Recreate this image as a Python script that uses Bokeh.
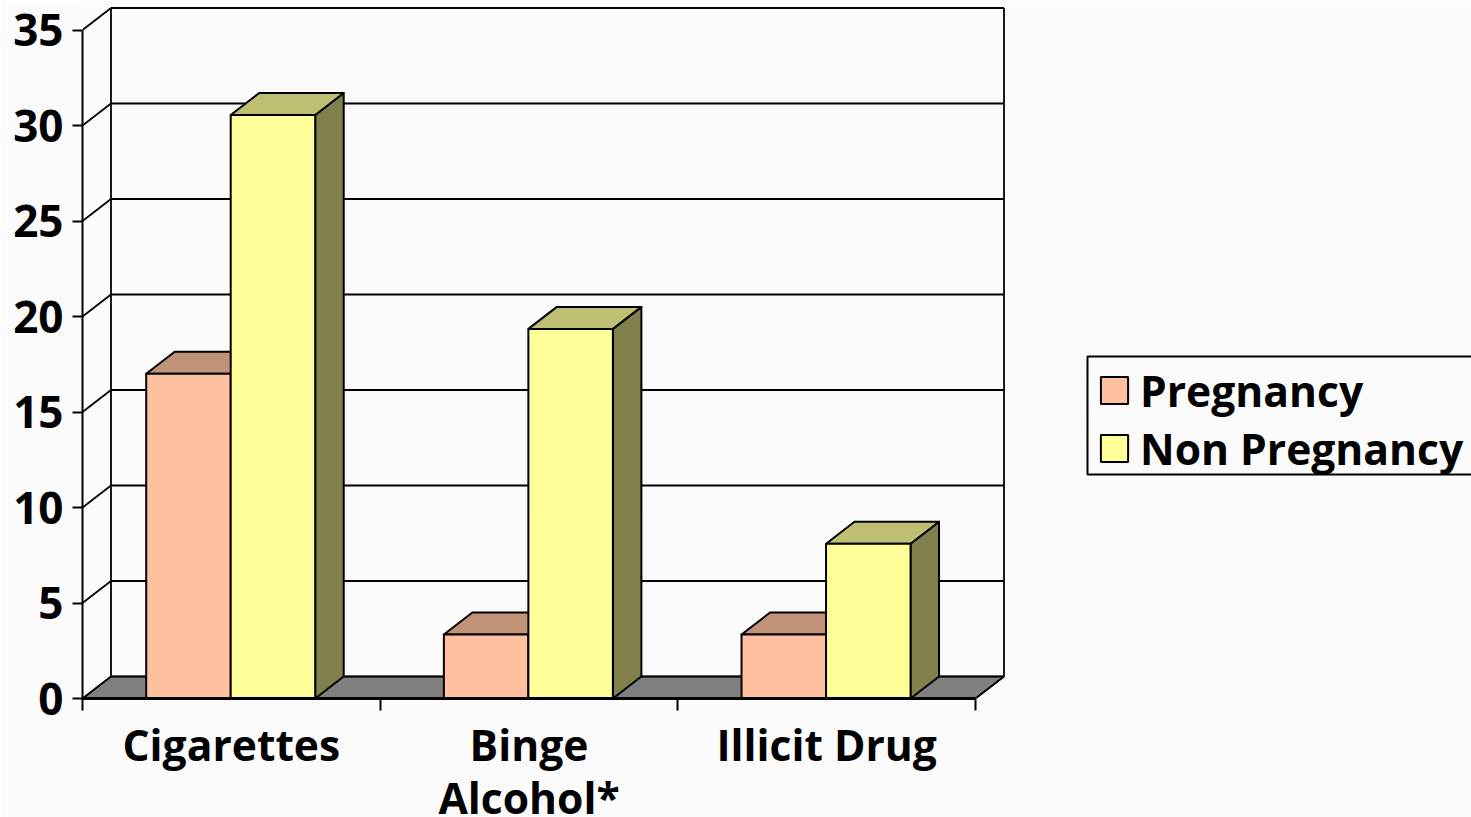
from bokeh.embed import file_html
from bokeh.models import BoxAnnotation, FixedTicker, Legend, LegendItem, LinearAxis, Range1d
from bokeh.plotting import figure
from bokeh.resources import INLINE

categories = ["Cigarettes", "Binge\nAlcohol*", "Illicit Drug"]
pregnancy = [17.0, 3.35, 3.35]
non_pregnancy = [30.55, 19.35, 8.1]
value_ticks = [0, 5, 10, 15, 20, 25, 30, 35]

FONT = "Open Sans"
VALUE_SIZE = "44px"
LABEL_SIZE = "42.6px"
PAGE = "#fbfbfb"

# Pixel scale of the chart frame.
PX_PER_CATEGORY = 297.67
PX_PER_UNIT = 19.1
FRAME_LEFT = 82
FRAME_HEIGHT = 698
WIDTH, HEIGHT = 1471, 817

# Oblique offset of the back wall, expressed in data units.
DX = 28.5 / PX_PER_CATEGORY
DY = 22 / PX_PER_UNIT
BAR = 84.5 / PX_PER_CATEGORY
GAP = 63.7 / PX_PER_CATEGORY

p = figure(
    width=WIDTH, height=HEIGHT,
    frame_width=WIDTH - FRAME_LEFT, frame_height=FRAME_HEIGHT,
    x_range=Range1d(0, (WIDTH - FRAME_LEFT) / PX_PER_CATEGORY),
    y_range=Range1d(0, FRAME_HEIGHT / PX_PER_UNIT),
    output_backend="svg", toolbar_location=None,
    min_border_left=FRAME_LEFT, min_border_right=0, min_border_top=0,
    min_border_bottom=HEIGHT - FRAME_HEIGHT,
    background_fill_color=PAGE, border_fill_color=PAGE,
    outline_line_color=None,
    x_axis_type=None, y_axis_type=None,
)
p.grid.visible = False

n = len(categories)
top = value_ticks[-1]

# Floor of the box.
p.patch([0, n, n + DX, DX], [0, 0, DY, DY], fill_color="#808080", line_color="black", line_width=1.5)

# Back wall gridlines and their diagonals along the left wall.
p.segment([DX] * len(value_ticks), [v + DY for v in value_ticks],
          [n + DX] * len(value_ticks), [v + DY for v in value_ticks],
          line_color="black", line_width=1.8)
p.segment([0] * len(value_ticks), value_ticks,
          [DX] * len(value_ticks), [v + DY for v in value_ticks],
          line_color="black", line_width=1.8)

# Vertical edges of the back wall.
p.segment([DX, n + DX], [DY, DY], [DX, n + DX], [top + DY, top + DY],
          line_color="black", line_width=1.8)
p.segment([n], [0], [n + DX], [DY], line_color="black", line_width=1.8)


def draw_series(values, start, front, roof, side):
    """Draw one series of oblique bars: side faces, roofs, then fronts."""
    lefts = [i + start for i in range(len(values))]
    rights = [x + BAR for x in lefts]
    p.patches(
        [[r, r + DX, r + DX, r] for r in rights],
        [[0, DY, v + DY, v] for v in values],
        fill_color=side, line_color="black", line_width=2, line_join="round",
    )
    p.patches(
        [[l, r, r + DX, l + DX] for l, r in zip(lefts, rights)],
        [[v, v, v + DY, v + DY] for v in values],
        fill_color=roof, line_color="black", line_width=2, line_join="round",
    )
    return p.vbar(
        x=[x + BAR / 2 for x in lefts], top=values, bottom=0, width=BAR,
        fill_color=front, line_color="black", line_width=2,
    )


bars_a = draw_series(pregnancy, GAP, "#ffc0a0", "#c09378", "#806050")
bars_b = draw_series(non_pregnancy, GAP + BAR, "#ffff99", "#bfbf73", "#80804d")

# Value axis on the front left edge.
y_axis = LinearAxis(
    ticker=FixedTicker(ticks=value_ticks), bounds=(0, top),
    major_tick_in=0, major_tick_out=10, minor_tick_line_color=None,
    major_tick_line_width=2, axis_line_width=2, major_label_standoff=9,
    major_label_text_font=FONT, major_label_text_font_size=VALUE_SIZE,
    major_label_text_font_style="bold", major_label_text_color="black",
)
p.add_layout(y_axis, "left")

# Minor ticks mark the category boundaries, major positions carry the names.
centers = [i + 0.5 for i in range(n)]
x_axis = LinearAxis(
    ticker=FixedTicker(ticks=centers, minor_ticks=list(range(n + 1))),
    bounds=(0, n),
    major_label_overrides={c: t for c, t in zip(centers, categories)},
    major_tick_in=0, major_tick_out=0, major_tick_line_color=None,
    minor_tick_in=0, minor_tick_out=12, minor_tick_line_color="black",
    minor_tick_line_width=2, axis_line_width=3, major_label_standoff=4,
    major_label_text_font=FONT, major_label_text_font_size=LABEL_SIZE,
    major_label_text_font_style="bold", major_label_text_color="black",
    major_label_text_align="center", major_label_text_line_height=0.92,
)
p.add_layout(x_axis, "below")

# Legend frame, running off the right edge of the page (frame-relative pixels).
p.add_layout(BoxAnnotation(
    left=1087 - FRAME_LEFT, right=1480 - FRAME_LEFT,
    top=FRAME_HEIGHT - 356, bottom=FRAME_HEIGHT - 474,
    left_units="screen", right_units="screen", top_units="screen", bottom_units="screen",
    fill_color=None, line_color="black", line_width=2, line_alpha=1,
))

legend = Legend(
    items=[LegendItem(label="Pregnancy", renderers=[bars_a]),
           LegendItem(label="Non Pregnancy", renderers=[bars_b])],
    location=(1097 - FRAME_LEFT, FRAME_HEIGHT - 477),
    orientation="vertical", margin=0, padding=5, spacing=0,
    glyph_width=34, glyph_height=34, label_standoff=9, label_height=45,
    label_text_font=FONT, label_text_font_size=LABEL_SIZE,
    label_text_font_style="bold", label_text_color="black",
    border_line_color=None, background_fill_alpha=0,
)
p.add_layout(legend, "center")

open("out.html", "w").write(file_html(p, INLINE))
